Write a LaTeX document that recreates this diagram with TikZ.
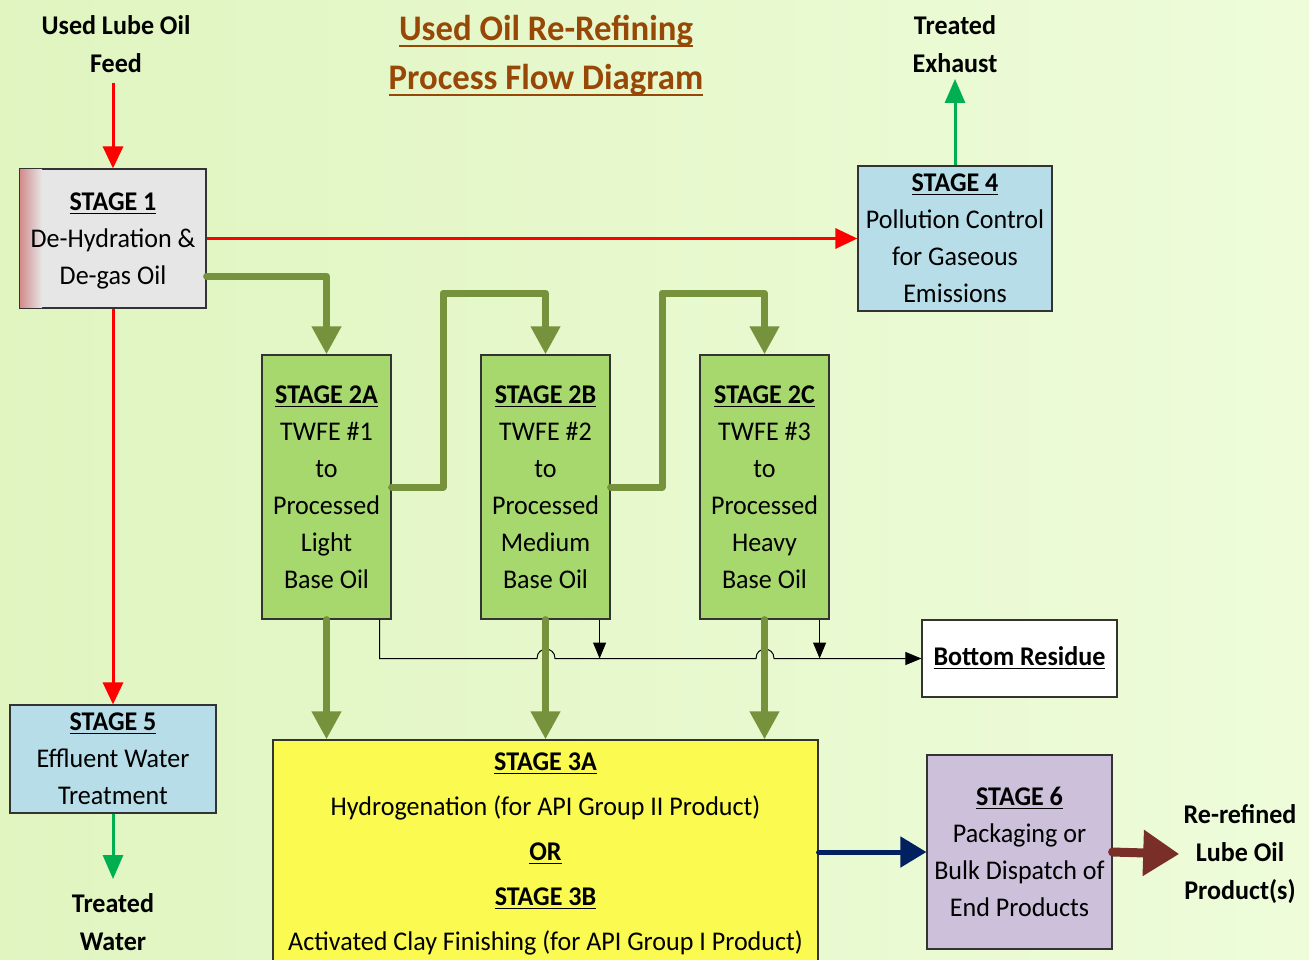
\documentclass[tikz,border=0pt]{standalone}
\usepackage{fontspec}
\setmainfont[FakeStretch=0.965]{Carlito}
\usetikzlibrary{arrows.meta}
\definecolor{bgL}{RGB}{224,245,192}
\definecolor{bgR}{RGB}{238,252,218}
\definecolor{stgreen}{RGB}{166,216,110}
\definecolor{olive}{RGB}{118,146,60}
\definecolor{teal}{RGB}{183,222,232}
\definecolor{yel}{RGB}{250,250,80}
\definecolor{lav}{RGB}{204,192,218}
\definecolor{greyb}{RGB}{230,230,230}
\definecolor{redl}{RGB}{255,0,0}
\definecolor{greenl}{RGB}{0,176,80}
\definecolor{navy}{RGB}{0,32,96}
\definecolor{brownl}{RGB}{122,46,40}
\definecolor{titlec}{RGB}{152,72,6}
\newcommand{\thickul}[1]{\setbox0\hbox{#1}\leavevmode\rlap{\rule[-3.2pt]{\wd0}{1.3pt}}\box0}
\tikzset{
  box/.style={draw=black!80, line width=0.6pt, align=center, inner sep=2pt,
    font=\fontsize{13.5}{18.5}\selectfont},
  lbl/.style={align=center, font=\bfseries\fontsize{13.5}{19}\selectfont, inner sep=1pt},
  redarrow/.style={draw=redl, line width=1.5pt, -{Triangle[length=11pt,width=10pt]}},
  greenarrow/.style={draw=greenl, line width=1.5pt, -{Triangle[length=12pt,width=10pt]}},
  olivearrow/.style={draw=olive, line width=3.5pt, line cap=round, line join=round, -{Triangle[length=14pt,width=14pt]}},
  thinarrow/.style={draw=black, line width=0.5pt, -{Triangle[length=8pt,width=6.5pt]}},
}
\begin{document}
\begin{tikzpicture}[x=0.5pt,y=-0.5pt]
\useasboundingbox (0,0) rectangle (1309,959);
\clip (0,0) rectangle (1309,959);
\shade[left color=bgL, right color=bgR] (0,0) rectangle (1309,959);

% title
\node[font=\bfseries\fontsize{18}{24.5}\selectfont, text=titlec, align=center] (title) at (546,56)
  {\thickul{Used Oil Re-Refining}\\\thickul{Process Flow Diagram}};

% labels
\node[lbl] (feed) at (116,44) {Used Lube Oil\\Feed};
\node[lbl] (exhaust) at (955,44) {Treated\\Exhaust};
\node[lbl] (water) at (113,922) {Treated\\Water};
\node[lbl] (product) at (1240,854) {Re-refined\\Lube Oil\\Product(s)};

% stage 1
\node[box, fill=greyb, minimum width=93pt, minimum height=69.5pt] (s1) at (113,238.5) {};
\shade[left color={rgb,255:red,210;green,140;blue,140}, right color=greyb] (20,169) rectangle (42,308);
\node[box, draw=none, minimum width=93pt, minimum height=69.5pt] (s1t) at (113,240.5)
  {\textbf{\underline{STAGE 1}}\\De-Hydration \&\\De-gas Oil};
\draw[draw=black!80, line width=0.6pt] (s1.north west) rectangle (s1.south east);

% stage 4
\node[box, fill=teal, minimum width=97pt, minimum height=72.5pt] (s4) at (955,238.5)
  {\textbf{\underline{STAGE 4}}\\Pollution Control\\for Gaseous\\Emissions};

% stage 2
\node[box, fill=stgreen, minimum width=64.5pt, minimum height=132pt] (s2a) at (326.5,487)
  {\textbf{\underline{STAGE 2A}}\\TWFE \#1\\to\\Processed\\Light\\Base Oil};
\node[box, fill=stgreen, minimum width=64.5pt, minimum height=132pt] (s2b) at (545.5,487)
  {\textbf{\underline{STAGE 2B}}\\TWFE \#2\\to\\Processed\\Medium\\Base Oil};
\node[box, fill=stgreen, minimum width=64.5pt, minimum height=132pt] (s2c) at (764.5,487)
  {\textbf{\underline{STAGE 2C}}\\TWFE \#3\\to\\Processed\\Heavy\\Base Oil};

% stage 5
\node[box, fill=teal, minimum width=103pt, minimum height=54pt] (s5) at (113,759)
  {\textbf{\underline{STAGE 5}}\\Effluent Water\\Treatment};

% stage 3
\node[box, fill=yel, minimum width=272.5pt, minimum height=114pt,
  font=\fontsize{13.5}{22.5}\selectfont] (s3) at (545.5,854)
  {\textbf{\underline{STAGE 3A}}\\Hydrogenation (for API Group II Product)\\\textbf{\underline{OR}}\\\textbf{\underline{STAGE 3B}}\\Activated Clay Finishing (for API Group I Product)};

% stage 6
\node[box, fill=lav, minimum width=92.5pt, minimum height=97pt] (s6) at (1019.5,852)
  {\textbf{\underline{STAGE 6}}\\Packaging or\\Bulk Dispatch of\\End Products};

% bottom residue
\node[box, fill=white, minimum width=97.5pt, minimum height=38.5pt] (br) at (1019.5,658.5)
  {\textbf{\underline{Bottom Residue}}};

% red / green connectors
\draw[redarrow] ([yshift=-4pt]s1.north |- feed.south) -- (s1.north);
\draw[redarrow] (s1.east) -- (s4.west);
\draw[redarrow] (s1.south) -- (s5.north);
\draw[greenarrow] (s4.north) -- ([yshift=-2pt]s4.north |- exhaust.south);
\draw[greenarrow] (s5.south) -- ([yshift=6pt]s5.south |- water.north);

% thin residue lines
\draw[thinarrow] ([xshift=-6pt]s2a.south east) |- (537,658.5)
  .. controls (537,646) and (555,646) .. (555,658.5) -- (756,658.5)
  .. controls (756,646) and (774,646) .. (774,658.5) -- (br.west);
\draw[thinarrow] ([xshift=-5.5pt]s2b.south east) -- ([xshift=-5.5pt]s2b.south east |- br.west);
\draw[thinarrow] ([xshift=-5pt]s2c.south east) -- ([xshift=-5pt]s2c.south east |- br.west);

% olive connectors
\draw[olivearrow] ([yshift=-18.75pt]s1.east) -| (s2a.north);
\draw[olivearrow] (s2a.east) -| (443,293) -| (s2b.north);
\draw[olivearrow] (s2b.east) -| (662,293) -| (s2c.north);
\draw[olivearrow] (s2a.south) -- (s2a.south |- s3.north);
\draw[olivearrow] (s2b.south) -- (s2b.south |- s3.north);
\draw[olivearrow] (s2c.south) -- (s2c.south |- s3.north);

% outputs
\draw[draw=navy, line width=2.5pt, line cap=round, -{Triangle[length=13pt,width=15pt]}] (s3.east |- s6.west) -- (s6.west);
\draw[draw=brownl, line width=4.5pt, line cap=round, -{Triangle[length=18pt,width=22pt]}] (s6.east) -- ([xshift=-1pt]product.west);
\end{tikzpicture}
\end{document}
